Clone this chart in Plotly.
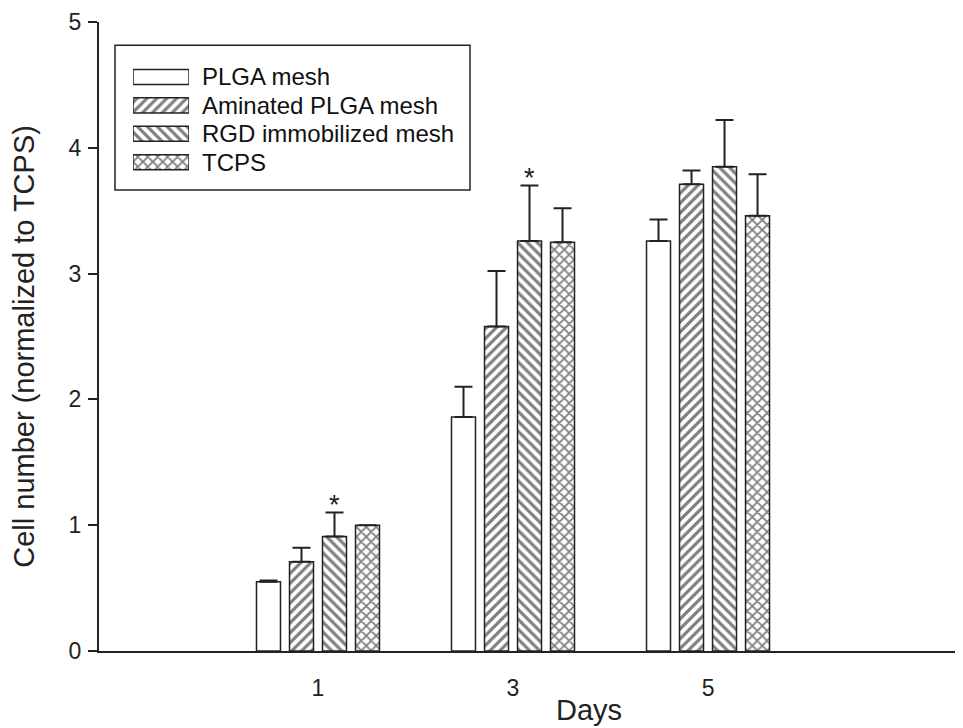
import plotly.graph_objects as go

days = [1, 3, 5]
series_names = ["PLGA mesh", "Aminated PLGA mesh", "RGD immobilized mesh", "TCPS"]
plga = [0.55, 1.86, 3.26]
plga_err = [0.01, 0.24, 0.17]
aminated = [0.71, 2.58, 3.71]
aminated_err = [0.11, 0.44, 0.11]
rgd = [0.91, 3.26, 3.85]
rgd_err = [0.19, 0.44, 0.37]
tcps = [1.00, 3.25, 3.46]
tcps_err = [0.0, 0.27, 0.33]
star_days = [1, 3]
y_ticks = [0, 1, 2, 3, 4, 5]

values = [plga, aminated, rgd, tcps]
errors = [plga_err, aminated_err, rgd_err, tcps_err]
patterns = ["", "/", "\\", "x"]

FONT = "Liberation Sans, Arial, sans-serif"
INK = "#222222"

def pat(shape):
    return dict(shape=shape, fgcolor="#000", bgcolor="white", size=7,
                solidity=0.45, fillmode="overlay")

fig = go.Figure()
for name, vals, errs, p in zip(series_names, values, errors, patterns):
    fig.add_trace(go.Bar(
        x=days, y=vals, name=name, showlegend=False,
        marker=dict(color="white", line=dict(color=INK, width=1.5), pattern=pat(p)),
        error_y=dict(type="data", array=errs, arrayminus=[0] * len(errs),
                     symmetric=False, color=INK, thickness=2, width=9,
                     visible=True),
    ))

# legend swatches drawn as a small bar subplot
fig.add_trace(go.Bar(
    x=[1] * len(series_names), y=series_names, orientation="h",
    xaxis="x2", yaxis="y2", showlegend=False, hoverinfo="skip",
    width=0.53, offset=-0.265,
    marker=dict(color="white", line=dict(color=INK, width=1.5),
                pattern=dict(shape=patterns, fgcolor="#000", bgcolor="white",
                             size=7, solidity=0.45, fillmode="overlay")),
))

# significance stars above RGD bars
bar_pitch = 0.338
for d in star_days:
    i = days.index(d)
    fig.add_annotation(x=d + 0.5 * bar_pitch, y=rgd[i] + rgd_err[i],
                       text="*", showarrow=False, yanchor="bottom", yshift=-9,
                       font=dict(family=FONT, size=27, color=INK))

# axis titles
fig.add_annotation(text="Days", xref="paper", yref="paper", x=0.567, y=-0.094,
                   xanchor="center", yanchor="middle", showarrow=False,
                   font=dict(family=FONT, size=29, color=INK))
fig.add_annotation(text="Cell number (normalized to TCPS)", xref="paper", yref="paper",
                   x=-0.087, y=0.485, textangle=-90, xanchor="center", yanchor="middle",
                   showarrow=False, borderpad=0,
                   font=dict(family=FONT, size=29, color=INK))

fig.add_shape(type="rect", xref="paper", yref="paper",
              x0=0.0185, x1=0.4294, y0=0.733, y1=0.963,
              line=dict(color=INK, width=1.5), fillcolor="rgba(0,0,0,0)")

fig.update_layout(
    width=963, height=728,
    margin=dict(l=91, r=8, t=14, b=85),
    paper_bgcolor="white", plot_bgcolor="white",
    barmode="group", bargap=0.323, bargroupgap=0.273,
    font=dict(family=FONT, color=INK, size=23),
    showlegend=False,
    xaxis=dict(range=[-1.246, 7.615], tickvals=days, ticktext=[str(d) for d in days],
               showline=True, linecolor=INK, linewidth=2, ticks="",
               ticklabelstandoff=15, showgrid=False, zeroline=False, automargin=False,
               tickfont=dict(size=23)),
    yaxis=dict(range=[0, 5], tickvals=y_ticks, showline=True, linecolor=INK,
               linewidth=2, ticks="outside", ticklen=9, tickwidth=2, tickcolor=INK,
               showgrid=False, zeroline=False, ticklabelstandoff=2, automargin=False,
               tickfont=dict(size=23)),
    xaxis2=dict(domain=[0.0394, 0.1042], range=[0, 1], anchor="y2", visible=False,
                fixedrange=True),
    yaxis2=dict(domain=[0.7544, 0.9352], anchor="x2", side="right",
                autorange="reversed", showline=False, ticks="", showgrid=False,
                tickmode="array", tickvals=series_names,
                zeroline=False, ticklabelstandoff=12, automargin=False,
                tickfont=dict(size=24, color="#111"), fixedrange=True),
)

fig.write_html("out.html")
